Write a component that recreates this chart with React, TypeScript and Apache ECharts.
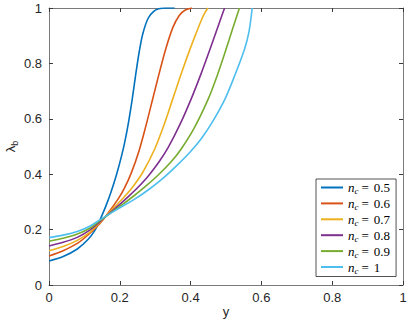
import React, { useEffect, useRef } from "react";
import * as echarts from "echarts";

const ncValues = ["0.5", "0.6", "0.7", "0.8", "0.9", "1"];
const colors = ["#0072BD", "#D95319", "#EDB120", "#7E2F8E", "#77AC30", "#4DBEEE"];

const nc05: number[][] = [
  [0, 0.087], [0.04, 0.103], [0.08, 0.13], [0.11, 0.164], [0.13, 0.198], [0.145, 0.238],
  [0.16, 0.283], [0.175, 0.335], [0.19, 0.395], [0.205, 0.466], [0.215, 0.522], [0.225, 0.59],
  [0.235, 0.67], [0.245, 0.76], [0.255, 0.843], [0.265, 0.907], [0.28, 0.963], [0.295, 0.987],
  [0.31, 0.997], [0.33, 1], [0.355, 1],
];
const nc06: number[][] = [
  [0, 0.105], [0.04, 0.124], [0.08, 0.15], [0.115, 0.186], [0.145, 0.224], [0.17, 0.265],
  [0.195, 0.31], [0.212, 0.347], [0.232, 0.403], [0.254, 0.483], [0.273, 0.571], [0.292, 0.667],
  [0.311, 0.763], [0.33, 0.853], [0.35, 0.93], [0.368, 0.973], [0.385, 0.993], [0.404, 1],
];
const nc07: number[][] = [
  [0, 0.124], [0.04, 0.139], [0.08, 0.161], [0.115, 0.19], [0.145, 0.227], [0.17, 0.262],
  [0.19, 0.288], [0.209, 0.313], [0.237, 0.355], [0.265, 0.407], [0.299, 0.492], [0.323, 0.571],
  [0.347, 0.662], [0.372, 0.757], [0.397, 0.847], [0.415, 0.907], [0.43, 0.955], [0.44, 0.982],
  [0.449, 1],
];
const nc08: number[][] = [
  [0, 0.141], [0.04, 0.154], [0.08, 0.172], [0.115, 0.198], [0.145, 0.23], [0.17, 0.258],
  [0.2, 0.291], [0.224, 0.319], [0.25, 0.351], [0.28, 0.393], [0.31, 0.443], [0.336, 0.495],
  [0.369, 0.577], [0.402, 0.673], [0.43, 0.764], [0.454, 0.848], [0.476, 0.928], [0.496, 1],
];
const nc09: number[][] = [
  [0, 0.158], [0.04, 0.169], [0.08, 0.184], [0.115, 0.205], [0.145, 0.233], [0.17, 0.256],
  [0.2, 0.284], [0.233, 0.315], [0.27, 0.353], [0.31, 0.399], [0.345, 0.445], [0.374, 0.492],
  [0.41, 0.566], [0.449, 0.669], [0.474, 0.752], [0.496, 0.835], [0.518, 0.922], [0.538, 1],
];
const nc10: number[][] = [
  [0, 0.171], [0.04, 0.18], [0.08, 0.193], [0.115, 0.212], [0.145, 0.236], [0.17, 0.256],
  [0.2, 0.279], [0.242, 0.31], [0.28, 0.343], [0.32, 0.383], [0.36, 0.43], [0.4, 0.482],
  [0.43, 0.528], [0.46, 0.585], [0.496, 0.668], [0.525, 0.757], [0.552, 0.85], [0.565, 0.915],
  [0.574, 1],
];
const seriesData = [nc05, nc06, nc07, nc08, nc09, nc10];

const axisColor = "#7a7a7a";
const tickColor = "#3a3a3a";
const labelColor = "#262626";
const sans = "Liberation Sans, Arial, sans-serif";
const serif = "Liberation Serif, DejaVu Serif, serif";

export default function App() {
  const ref = useRef<HTMLDivElement>(null);
  useEffect(() => {
    const chart = echarts.init(ref.current!, null, { renderer: "svg" });
    const names = ncValues.map((v) => `n_c = ${v}`);
    const commonX = {
      type: "value",
      min: 0,
      max: 1,
      interval: 0.2,
      splitLine: { show: false },
      axisLine: { show: true, onZero: false, lineStyle: { color: axisColor, width: 1 } },
      axisTick: { show: true, inside: true, length: 4, lineStyle: { color: tickColor, width: 1 } },
    };
    chart.setOption({
      animation: false,
      backgroundColor: "#ffffff",
      grid: { left: 49, right: 4, top: 8, bottom: 40, containLabel: false, outerBoundsMode: "none" },
      xAxis: [
        {
          ...commonX,
          position: "bottom",
          axisLabel: { color: labelColor, fontSize: 13, fontFamily: sans, margin: 6 },
          name: "y",
          nameLocation: "middle",
          nameGap: 20,
          nameMoveOverlap: false,
          nameTextStyle: { color: labelColor, fontSize: 13, fontFamily: sans },
        },
        { ...commonX, position: "top", axisLabel: { show: false } },
      ],
      yAxis: [
        {
          ...commonX,
          position: "left",
          axisLabel: { color: labelColor, fontSize: 13, fontFamily: sans, margin: 7 },
          name: "{l|λ}{s|b}",
          nameLocation: "middle",
          nameGap: 30,
          nameMoveOverlap: false,
          nameTextStyle: {
            color: labelColor,
            rich: {
              l: { fontSize: 13, fontFamily: sans, color: labelColor, verticalAlign: "middle", lineHeight: 18 },
              s: { fontSize: 9, fontFamily: sans, color: labelColor, verticalAlign: "bottom", lineHeight: 18 },
            },
          },
        },
        { ...commonX, position: "right", axisLabel: { show: false } },
      ],
      legend: {
        orient: "vertical",
        left: 316,
        top: 179,
        itemWidth: 22,
        itemHeight: 2,
        itemGap: 1.4,
        icon: "rect",
        padding: [2, 6, 1.5, 5],
        borderColor: "#262626",
        borderWidth: 0.8,
        backgroundColor: "#ffffff",
        data: names,
        formatter: (name: string) => {
          const v = name.split("= ")[1];
          return `{n|n}{c|c}{e|=}{v|${v}}`;
        },
        textStyle: {
          rich: {
            n: { fontSize: 13, fontStyle: "italic", fontFamily: serif, color: "#000", verticalAlign: "middle", lineHeight: 16 },
            c: { fontSize: 9, fontStyle: "italic", fontFamily: serif, color: "#000", verticalAlign: "bottom", lineHeight: 14 },
            e: { fontSize: 13, fontFamily: serif, color: "#000", padding: [0, 5, 0, 3], verticalAlign: "middle", lineHeight: 16 },
            v: { fontSize: 13, fontFamily: serif, color: "#000", verticalAlign: "middle", lineHeight: 16 },
          },
        },
      },
      series: seriesData.map((d, i) => ({
        name: names[i],
        type: "line",
        xAxisIndex: 0,
        yAxisIndex: 0,
        data: d,
        showSymbol: false,
        smooth: 0.3,
        color: colors[i],
        lineStyle: { color: colors[i], width: 1.6 },
      })),
    });
    return () => chart.dispose();
  }, []);
  return <div ref={ref} style={{ position: "fixed", left: 0, top: 0, width: 407, height: 325 }} />;
}
